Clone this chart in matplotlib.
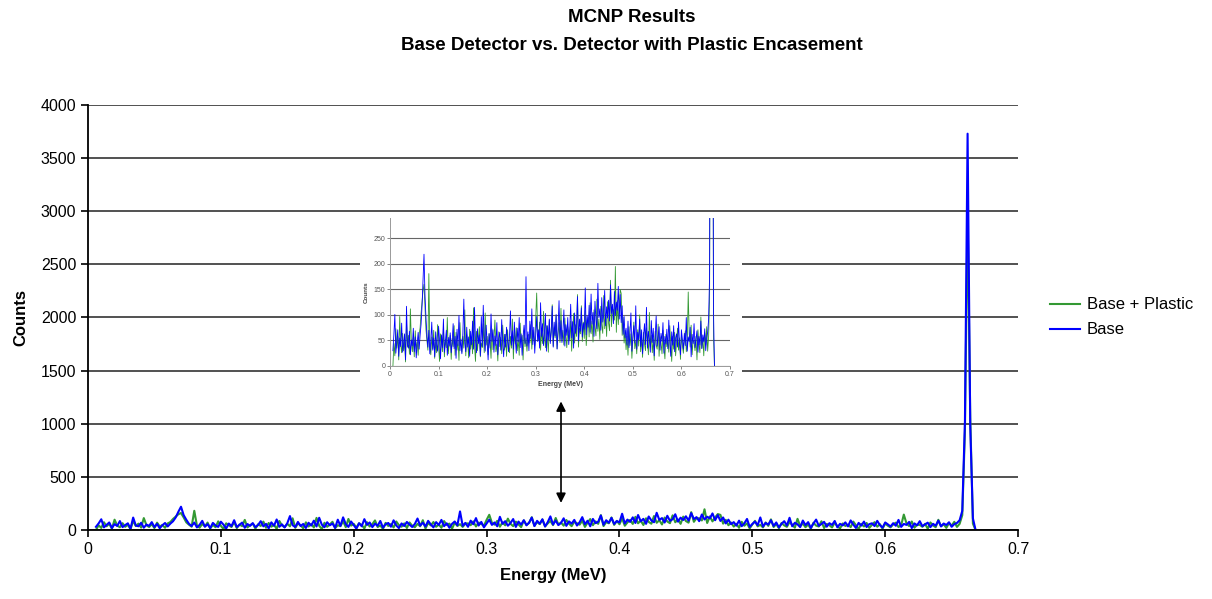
import matplotlib.pyplot as plt
import numpy as np

plt.rcParams["font.family"] = ["Liberation Sans", "DejaVu Sans"]

# energy grid of the tallies (MeV)
E_START = 0.006
E_STEP = 0.002

BASE = [
    30, 62, 101, 25, 48, 71, 19, 55, 38, 84, 27, 46, 63, 12, 117, 42, 35, 68, 22, 51,
    39, 74, 28, 57, 16, 45, 66, 33, 60, 82, 118, 171, 219, 140, 96, 58, 37, 70, 24, 49,
    86, 31, 55, 18, 67, 43, 29, 78, 50, 14, 61, 36, 92, 27, 48, 70, 21, 56, 39, 65,
    26, 47, 83, 34, 58, 15, 72, 40, 99, 30, 53, 24, 64, 131, 45, 28, 76, 37, 57, 19,
    68, 42, 88, 33, 115, 50, 26, 73, 44, 61, 20, 97, 38, 119, 55, 29, 80, 46, 12, 63,
    35, 102, 48, 71, 27, 59, 40, 85, 22, 54, 66, 31, 91, 43, 18, 62, 37, 76, 50, 28,
    57, 108, 41, 69, 33, 86, 52, 25, 74, 47, 95, 36, 63, 21, 58, 80, 44, 175, 39, 67,
    30, 88, 54, 112, 42, 76, 25, 61, 97, 48, 71, 35, 124, 58, 83, 40, 66, 103, 29, 79,
    51, 92, 44, 70, 117, 37, 86, 59, 101, 33, 74, 128, 52, 89, 46, 67, 110, 39, 81, 60,
    95, 42, 73, 121, 55, 87, 35, 104, 64, 78, 136, 49, 92, 68, 114, 57, 84, 72, 153, 61,
    98, 76, 119, 66, 141, 82, 105, 58, 127, 90, 73, 162, 95, 112, 70, 134, 86, 101, 148, 79,
    116, 94, 129, 88, 159, 103, 121, 83, 146, 99, 125, 109, 156, 92, 140, 85, 118, 62, 97, 55,
    74, 41, 88, 36, 63, 104, 29, 57, 79, 45, 118, 33, 66, 51, 92, 38, 71, 24, 59, 83,
    42, 115, 35, 68, 53, 27, 89, 46, 74, 20, 61, 98, 39, 56, 77, 31, 64, 48, 85, 25,
    58, 43, 72, 34, 90, 50, 19, 67, 41, 79, 28, 55, 63, 37, 86, 46, 22, 71, 53, 33,
    64, 40, 95, 29, 57, 48, 76, 18, 62, 44, 83, 36, 52, 69, 27, 58, 41, 88, 34, 61,
    47, 73, 30, 55, 66, 92, 180, 1020, 3730, 980, 110, 0,
]

BASE_PLASTIC = [
    0, 44, 20, 73, 35, 58, 12, 97, 41, 26, 64, 30, 49, 8, 86, 37, 60, 23, 112, 45,
    28, 55, 18, 69, 33, 47, 21, 62, 75, 104, 126, 148, 160, 118, 72, 50, 31, 181, 40, 22,
    57, 34, 70, 15, 48, 26, 81, 39, 9, 63, 44, 28, 75, 18, 52, 36, 95, 24, 46, 60,
    13, 54, 38, 79, 21, 66, 31, 49, 11, 85, 42, 27, 58, 35, 110, 20, 61, 45, 16, 72,
    33, 56, 24, 114, 40, 9, 68, 30, 52, 77, 18, 45, 36, 83, 26, 104, 41, 58, 22, 64,
    47, 15, 73, 32, 55, 90, 28, 43, 10, 67, 38, 56, 24, 80, 46, 31, 62, 19, 71, 40,
    26, 58, 35, 92, 14, 66, 43, 75, 30, 51, 21, 84, 47, 60, 12, 69, 38, 55, 29, 60,
    62, 45, 81, 33, 70, 57, 40, 95, 143, 68, 50, 86, 31, 72, 44, 107, 58, 36, 79, 53,
    27, 90, 48, 66, 120, 39, 75, 55, 98, 34, 62, 85, 46, 113, 52, 70, 41, 94, 60, 36,
    77, 64, 50, 88, 29, 69, 103, 45, 81, 58, 140, 37, 74, 63, 118, 48, 86, 54, 109, 40,
    71, 95, 57, 124, 63, 88, 47, 110, 76, 59, 131, 68, 92, 52, 117, 80, 64, 138, 73, 99,
    58, 126, 84, 69, 168, 77, 112, 110, 90, 195, 66, 128, 81, 118, 150, 142, 60, 96, 45, 70,
    32, 58, 21, 77, 40, 63, 15, 52, 86, 34, 49, 24, 71, 39, 100, 28, 56, 17, 66, 43,
    30, 75, 48, 22, 105, 37, 60, 26, 53, 11, 68, 41, 33, 82, 19, 57, 45, 24, 70, 36,
    14, 62, 38, 51, 27, 79, 44, 9, 58, 33, 66, 20, 48, 74, 31, 55, 13, 60, 40, 25,
    52, 69, 28, 45, 145, 63, 37, 80, 22, 49, 48, 30, 58, 12, 71, 43, 26, 96, 35, 54,
    20, 65, 41, 77, 29, 58, 140, 930, 2990, 1060, 60, 0,
]

SERIES = [
    ("Base + Plastic", BASE_PLASTIC, "#339933"),
    ("Base", BASE, "#0000ff"),
]

X_TICKS = [0, 0.1, 0.2, 0.3, 0.4, 0.5, 0.6, 0.7]
X_TICK_LABELS = ["0", "0.1", "0.2", "0.3", "0.4", "0.5", "0.6", "0.7"]
Y_TICKS = [0, 500, 1000, 1500, 2000, 2500, 3000, 3500, 4000]
INSET_Y_TICKS = [0, 50, 100, 150, 200, 250]


def energies(values):
    return E_START + E_STEP * np.arange(len(values))


fig = plt.figure(figsize=(12.12, 5.99), dpi=100)
ax = fig.add_axes([0.0726, 0.1152, 0.7674, 0.7095])

for label, values, color in SERIES:
    ax.plot(energies(values), values, color=color, linewidth=1.5, label=label)

ax.set_xlim(0, 0.7)
ax.set_ylim(0, 4000)
ax.set_xticks(X_TICKS)
ax.set_xticklabels(X_TICK_LABELS)
ax.set_yticks(Y_TICKS)
ax.grid(True, axis="y", color="#222222", linewidth=1.1)
ax.set_axisbelow(True)
for side in ["top", "right"]:
    ax.spines[side].set_visible(False)
for side in ["left", "bottom"]:
    ax.spines[side].set_linewidth(1.3)
ax.tick_params(axis="both", direction="out", length=5, width=1.2, labelsize=11.5)
ax.set_xlabel("Energy (MeV)", fontsize=12, fontweight="bold", labelpad=8)
ax.set_ylabel("Counts", fontsize=12, fontweight="bold", labelpad=9)

ax.annotate(
    "",
    xy=(0.356, 255),
    xytext=(0.356, 1210),
    arrowprops=dict(arrowstyle="<|-|>", color="black", linewidth=1.2,
                    mutation_scale=14, shrinkA=0, shrinkB=0),
)

ax.legend(loc="center left", bbox_to_anchor=(1.034, 0.5), frameon=False,
          fontsize=12, handlelength=1.8, handletextpad=0.42, labelspacing=0.6,
          borderpad=0, borderaxespad=0)

# zoomed copy of the same spectrum pasted over the middle of the chart
panel = fig.add_axes([360 / 1212, 1 - 396 / 599, 382 / 1212, 184 / 599])
panel.set_facecolor("white")
panel.set_xticks([])
panel.set_yticks([])
for spine in panel.spines.values():
    spine.set_visible(False)

inset = fig.add_axes([390 / 1212, 1 - 366 / 599, 340 / 1212, 148 / 599])
for label, values, color in SERIES:
    inset.plot(energies(values), values, color=color, linewidth=0.6)
inset.set_xlim(0, 0.7)
inset.set_ylim(0, 290)
inset.set_xticks(X_TICKS)
inset.set_xticklabels(X_TICK_LABELS)
inset.set_yticks(INSET_Y_TICKS)
inset.grid(True, axis="y", color="#666666", linewidth=0.8)
inset.set_axisbelow(True)
inset.set_facecolor("white")
for side in ["top", "right"]:
    inset.spines[side].set_visible(False)
for side in ["left", "bottom"]:
    inset.spines[side].set_color("#999999")
    inset.spines[side].set_linewidth(0.7)
inset.tick_params(axis="both", direction="out", length=2, width=0.5,
                  labelsize=5, colors="#555555", pad=1.5)
inset.set_xlabel("Energy (MeV)", fontsize=5, fontweight="bold", color="#444444", labelpad=2)
inset.set_ylabel("Counts", fontsize=4.5, fontweight="bold", color="#444444", labelpad=3)

fig.text(0.521, 1 - 18 / 599, "MCNP Results", ha="center", va="center",
         fontsize=13.5, fontweight="bold")
fig.text(0.521, 1 - 45 / 599, "Base Detector vs. Detector with Plastic Encasement",
         ha="center", va="center", fontsize=13.5, fontweight="bold")

fig.savefig("out.png", dpi=100)
